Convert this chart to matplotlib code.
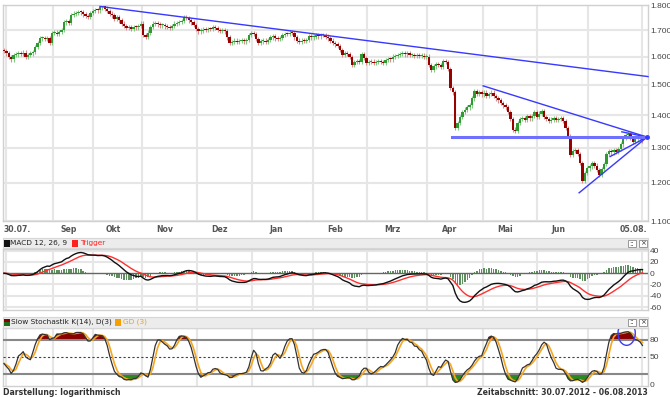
import numpy as np
import pandas as pd
import matplotlib
matplotlib.use("Agg")
import matplotlib.pyplot as plt
from matplotlib.patches import Rectangle, Ellipse
from matplotlib.ticker import NullLocator

W, H = 670, 397

# daily closes (one bar per trading day, 30.07.2012 - 06.08.2013)
close = [1620, 1612, 1598, 1590, 1605, 1608, 1612, 1610, 1615, 1598,
         1605, 1612, 1618, 1635, 1650, 1668, 1670, 1665, 1668, 1650,
         1688, 1690, 1685, 1692, 1700, 1730, 1735, 1728, 1760, 1765,
         1768, 1772, 1770, 1762, 1755, 1752, 1768, 1775, 1780, 1778,
         1790, 1795, 1785, 1775, 1765, 1758, 1745, 1750, 1738, 1725,
         1715, 1708, 1712, 1705, 1712, 1710, 1715, 1725, 1680, 1675,
         1690, 1712, 1725, 1728, 1722, 1718, 1720, 1714, 1712, 1708,
         1715, 1725, 1728, 1732, 1735, 1750, 1748, 1738, 1730, 1720,
         1705, 1695, 1698, 1702, 1700, 1705, 1703, 1712, 1708, 1700,
         1698, 1700, 1695, 1672, 1650, 1655, 1660, 1655, 1658, 1660,
         1657, 1662, 1680, 1688, 1685, 1665, 1650, 1657, 1660, 1655,
         1662, 1672, 1678, 1668, 1665, 1670, 1682, 1686, 1684, 1690,
         1688, 1672, 1660, 1655, 1660, 1658, 1662, 1678, 1672, 1675,
         1680, 1676, 1680, 1682, 1675, 1668, 1660, 1650, 1645, 1640,
         1625, 1605, 1612, 1610, 1598, 1570, 1580, 1585, 1582, 1610,
         1595, 1578, 1580, 1582, 1578, 1580, 1583, 1580, 1578, 1588,
         1592, 1590, 1600, 1603, 1605, 1610, 1612, 1608, 1612, 1605,
         1606, 1603, 1604, 1602, 1604, 1598, 1600, 1570, 1552, 1565,
         1572, 1570, 1562, 1585, 1580, 1555, 1490, 1475, 1360, 1375,
         1395, 1410, 1418, 1425, 1432, 1455, 1478, 1470, 1476, 1468,
         1474, 1462, 1470, 1474, 1462, 1455, 1448, 1440, 1432, 1425,
         1410, 1388, 1355, 1350, 1375, 1388, 1392, 1385, 1396, 1390,
         1398, 1410, 1395, 1405, 1412, 1395, 1388, 1382, 1386, 1390,
         1384, 1388, 1390, 1382, 1360, 1335, 1280, 1290, 1292, 1282,
         1255, 1205, 1228, 1240, 1246, 1255, 1248, 1235, 1222, 1238,
         1252, 1282, 1290, 1286, 1292, 1288, 1296, 1310, 1330, 1338,
         1342, 1330, 1318, 1325, 1330, 1325, 1322]
first_open = 1625

month_labels = ['30.07.', 'Sep', 'Okt', 'Nov', 'Dez', 'Jan', 'Feb', 'Mrz', 'Apr', 'Mai', 'Jun', '05.08.']
month_pos = [-0.3, 26.9, 45.7, 66.8, 89.9, 113.3, 137.8, 162.0, 185.8, 208.8, 230.8, 268.0]
grid_pos = [0.8, 20.4, 37.1, 57.5, 80.4, 103.3, 128.8, 151.3, 176.3, 199.6, 222.1, 243.3, 265.8]
price_ticks = [1100, 1200, 1300, 1400, 1500, 1600, 1700, 1800]
macd_ticks = [40, 20, 0, -20, -40, -60]
stoch_ticks = [80, 50, 0]

# trend lines drawn in the chart: (x0, price0, x1, price1)
trend_lines = [(40.0, 1794, 268.3, 1529),
               (199.6, 1497, 267.9, 1332),
               (239.6, 1173, 267.9, 1332),
               (252.5, 1274, 267.9, 1332),
               (257.4, 1348, 267.9, 1332)]
support = (186.7, 268.3, 1332)

x = np.arange(len(close))
c = np.array(close, dtype=float)
o = np.r_[first_open, c[:-1]]
top = np.maximum(o, c)
bot = np.minimum(o, c)
hi = top * 1.005
lo = bot * 0.995

# indicators
s = pd.Series(c)
macd = s.ewm(span=12, adjust=False).mean() - s.ewm(span=26, adjust=False).mean()
trig = macd.ewm(span=9, adjust=False).mean()
hist = macd - trig
hh = pd.Series(hi).rolling(14, min_periods=1).max()
ll = pd.Series(lo).rolling(14, min_periods=1).min()
fastk = 100 * (s - ll) / (hh - ll)
slowk = fastk.rolling(3, min_periods=1).mean()
slowd = slowk.rolling(3, min_periods=1).mean()

fig = plt.figure(figsize=(W / 100, H / 100), dpi=100)

def box(l, t, r, b):
    return [l / W, 1 - b / H, (r - l) / W, (b - t) / H]

def rect_px(l, t, r, b, **kw):
    fig.add_artist(Rectangle((l / W, 1 - b / H), (r - l) / W, (b - t) / H,
                             transform=fig.transFigure, **kw))

def text_px(px, py, s, **kw):
    fig.text(px / W, 1 - py / H, s, va='center', **kw)

xlim = (-0.54, 268.3)
ax = fig.add_axes(box(2.7, 5, 648, 221))
axm = fig.add_axes(box(2.7, 248.5, 648, 310))
axs = fig.add_axes(box(2.7, 327.5, 648, 386))

for a in (ax, axm, axs):
    a.set_xlim(*xlim)
    for sp in a.spines.values():
        sp.set_color('#d0d0d0')
        sp.set_linewidth(1)
    for g in grid_pos:
        a.axvline(g, color='#e6e6e6', lw=1.5, zorder=0)
    a.yaxis.tick_right()
    a.tick_params(axis='y', length=0, pad=1.5, labelsize=6, labelcolor='#444444')
    a.tick_params(axis='x', length=0)

def right_labels(a, ticks, labels):
    a.set_yticks(ticks)
    a.set_yticklabels(labels, family='Liberation Sans')

# ---- price panel
ax.set_yscale('log')
ax.set_ylim(1100, 1800)
ax.yaxis.set_minor_locator(NullLocator())
right_labels(ax, price_ticks, [f"{v:,}".replace(',', '.') for v in price_ticks])
for p in price_ticks:
    ax.axhline(p, color='#e6e6e6', lw=1.5, zorder=0)
ax.set_xticks(month_pos)
ax.set_xticklabels(month_labels, fontsize=5.6, fontweight='bold', color='#555555')
ax.tick_params(axis='x', pad=3)
tl = ax.get_xticklabels()
tl[0].set_ha('left')
tl[-1].set_ha('right')

up = c >= o
ax.vlines(x[up], lo[up], hi[up], color='#86c886', lw=0.8, zorder=2)
ax.vlines(x[~up], lo[~up], hi[~up], color='#d49090', lw=0.8, zorder=2)
hgt = np.maximum(top - bot, 4)
ax.bar(x[up], hgt[up], bottom=bot[up], width=1.0, color='#2f9a2f', lw=0, zorder=3)
ax.bar(x[~up], hgt[~up], bottom=bot[~up], width=1.0, color='#990000', lw=0, zorder=3)

for x0, p0, x1, p1 in trend_lines:
    ax.plot([x0, x1], [p0, p1], color='#3838ff', lw=1.0, zorder=4, clip_on=False)
ax.plot([support[0], support[1]], [support[2], support[2]], color='#7070ff', lw=2.2, zorder=4)
ax.plot([267.9], [1332], 'o', color='#3838ff', ms=2.5, clip_on=False, zorder=5)

# ---- MACD panel
axm.set_ylim(-65.3, 43.9)
right_labels(axm, macd_ticks, [str(v) for v in macd_ticks])
axm.set_xticks([])
for v in macd_ticks:
    if v != 0:
        axm.axhline(v, color='#e6e6e6', lw=1.5, zorder=0)
axm.bar(x, hist, width=0.6, color='#5e8f5e', lw=0, zorder=2)
axm.axhline(0, color='#666666', lw=1, zorder=3)
axm.plot(x, trig, color='#ff3030', lw=1, zorder=4)
axm.plot(x, macd, color='#111111', lw=1, zorder=5)

# ---- stochastic panel
axs.set_ylim(-1.8, 102.2)
right_labels(axs, stoch_ticks, [str(v) for v in stoch_ticks])
axs.set_xticks([])
k = slowk.values
d = slowd.values
axs.fill_between(x, 80, k, where=k > 80, interpolate=True, color='#8b0000', lw=0, zorder=2)
axs.fill_between(x, 20, k, where=k < 20, interpolate=True, color='#2a8a1e', lw=0, zorder=2)
axs.axhline(80, color='#888888', lw=1.5, zorder=3)
axs.axhline(20, color='#888888', lw=1.5, zorder=3)
axs.axhline(50, color='#444444', lw=0.8, ls=(0, (2, 2)), zorder=3)
axs.plot(x, d, color='#f5a623', lw=1.2, zorder=4)
axs.plot(x, k, color='#333333', lw=0.9, zorder=5)
axs.add_patch(Ellipse((259.4, 92.0), 7.2, 43, fill=False, edgecolor='#3a3aff', lw=1, clip_on=False, zorder=6))

# ---- panel headers
for t, b in ((238.5, 248.5), (317, 327.5)):
    rect_px(2.7, t, 648, b, facecolor='#ececec', edgecolor='#d6d6d6', lw=0.8)
    for bl, sym in ((628, '::'), (639, '×')):
        rect_px(bl, t + 1.5, bl + 8, b - 1.5, facecolor='white', edgecolor='#999999', lw=0.7)
        text_px(bl + 4, (t + b) / 2, sym, ha='center', fontsize=5, color='#333333')

rect_px(3.5, 240, 9.5, 247, facecolor='#111111', edgecolor='none')
text_px(10.5, 243.5, 'MACD 12, 26, 9', fontsize=5.3, color='#222222')
rect_px(72, 240, 78, 247, facecolor='#ff2020', edgecolor='none')
text_px(80, 243.5, 'Trigger', fontsize=5.3, color='#ff2020')

rect_px(3.5, 318.5, 9.5, 325.5, facecolor='#1e6e1e', edgecolor='none')
rect_px(3.5, 318.5, 9.5, 322, facecolor='#8b0000', edgecolor='none')
text_px(11, 322, 'Slow Stochastik K(14), D(3)', fontsize=5.3, color='#222222')
rect_px(115, 318.5, 121, 325.5, facecolor='#f5a000', edgecolor='none')
text_px(123, 322, 'GD (3)', fontsize=5.3, color='#f5a000')

# ---- footer
text_px(3, 392.5, 'Darstellung: logarithmisch', fontsize=5.6, fontweight='bold', color='#333333')
text_px(648, 392.5, 'Zeitabschnitt: 30.07.2012 - 06.08.2013', ha='right', fontsize=5.6,
        fontweight='bold', color='#333333')

fig.savefig('out.png', dpi=100)
